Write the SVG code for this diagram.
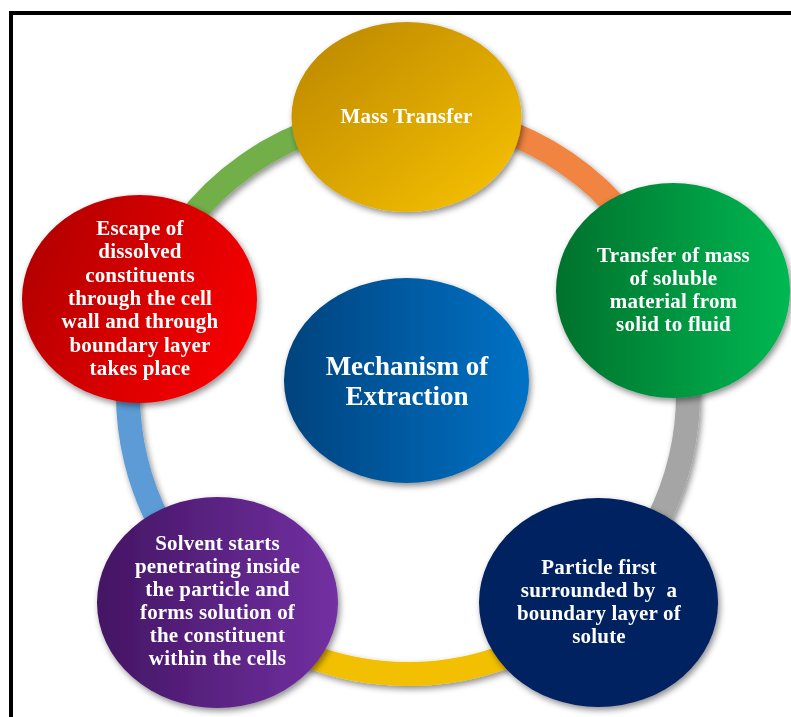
<svg xmlns="http://www.w3.org/2000/svg" width="791" height="717" viewBox="0 0 791 717">
  <defs>
    <linearGradient id="gGold" x1="0" y1="0" x2="1" y2="1">
      <stop offset="0" stop-color="#B98500"/>
      <stop offset="1" stop-color="#FAC400"/>
    </linearGradient>
    <linearGradient id="gGreen" x1="0" y1="0" x2="1" y2="0">
      <stop offset="0" stop-color="#00712C"/>
      <stop offset="1" stop-color="#00B852"/>
    </linearGradient>
    <linearGradient id="gRed" x1="0" y1="0.2" x2="1" y2="0.6">
      <stop offset="0" stop-color="#B00000"/>
      <stop offset="1" stop-color="#F80000"/>
    </linearGradient>
    <linearGradient id="gPurple" x1="0" y1="0" x2="1" y2="0">
      <stop offset="0" stop-color="#431563"/>
      <stop offset="1" stop-color="#7230A2"/>
    </linearGradient>
    <linearGradient id="gBlue" x1="0" y1="0" x2="1" y2="0">
      <stop offset="0" stop-color="#00437D"/>
      <stop offset="1" stop-color="#0072C6"/>
    </linearGradient>
    <filter id="shadow" x="-20%" y="-20%" width="140%" height="140%">
      <feDropShadow dx="2" dy="3" stdDeviation="3" flood-color="#000" flood-opacity="0.45"/>
    </filter>
    <style>
      .ring { fill: none; stroke-width: 24; }
      .label { font-family: "Liberation Serif", "Times New Roman", serif; font-weight: bold; font-size: 21px; letter-spacing: 0.2px; fill: #FFFFFF; text-anchor: middle; }
      .title { font-size: 27px; letter-spacing: 0; }
    </style>
  </defs>

  <rect width="791" height="717" fill="#FFFFFF"/>
  <!-- page frame -->
  <rect x="11" y="13" width="800" height="720" fill="none" stroke="#000000" stroke-width="4"/>

  <!-- ring segments linking the steps -->
  <g id="connectors" filter="url(#shadow)">
    <path class="ring" stroke="#F0843F" d="M408 114 A280 280 0 0 1 668.7 291.8"/>
    <path class="ring" stroke="#A5A5A5" d="M668.7 291.8 A280 280 0 0 1 596.8 600.8"/>
    <path class="ring" stroke="#F2C000" d="M596.8 600.8 A280 280 0 0 1 218.5 600.1"/>
    <path class="ring" stroke="#5B9BD5" d="M218.5 600.1 A280 280 0 0 1 145 297.8"/>
    <path class="ring" stroke="#72AF4A" d="M145 297.8 A280 280 0 0 1 408 114"/>
  </g>

  <g id="mass-transfer" filter="url(#shadow)">
    <ellipse cx="406.5" cy="117" rx="115" ry="95" fill="url(#gGold)"/>
    <text class="label" x="406.5" y="123">Mass Transfer</text>
  </g>

  <g id="transfer-of-mass" filter="url(#shadow)">
    <ellipse cx="673" cy="290.5" rx="117" ry="107.5" fill="url(#gGreen)"/>
    <text class="label" x="673.5" y="262">Transfer of mass</text>
    <text class="label" x="673.5" y="285">of soluble</text>
    <text class="label" x="673.5" y="308">material from</text>
    <text class="label" x="673.5" y="331">solid to fluid</text>
  </g>

  <g id="boundary-layer" filter="url(#shadow)">
    <ellipse cx="598.5" cy="602.5" rx="119.5" ry="104.5" fill="#002060"/>
    <text class="label" x="599" y="574">Particle first</text>
    <text class="label" x="599" y="597" xml:space="preserve">surrounded by  a</text>
    <text class="label" x="599" y="620">boundary layer of</text>
    <text class="label" x="599" y="643">solute</text>
  </g>

  <g id="solvent-penetration" filter="url(#shadow)">
    <ellipse cx="217.5" cy="602.5" rx="120.5" ry="105.5" fill="url(#gPurple)"/>
    <text class="label" x="217.5" y="550">Solvent starts</text>
    <text class="label" x="217.5" y="573">penetrating inside</text>
    <text class="label" x="217.5" y="596">the particle and</text>
    <text class="label" x="217.5" y="619">forms solution of</text>
    <text class="label" x="217.5" y="642">the constituent</text>
    <text class="label" x="217.5" y="665">within the cells</text>
  </g>

  <g id="escape-of-constituents" filter="url(#shadow)">
    <ellipse cx="139.5" cy="299" rx="117.5" ry="104" fill="url(#gRed)"/>
    <text class="label" x="140" y="235">Escape of</text>
    <text class="label" x="140" y="258">dissolved</text>
    <text class="label" x="140" y="282">constituents</text>
    <text class="label" x="140" y="305">through the cell</text>
    <text class="label" x="140" y="328">wall and through</text>
    <text class="label" x="140" y="352">boundary layer</text>
    <text class="label" x="140" y="375">takes place</text>
  </g>

  <g id="mechanism" filter="url(#shadow)">
    <ellipse cx="406.5" cy="380.5" rx="122.5" ry="102.5" fill="url(#gBlue)"/>
    <text class="label title" x="407" y="375">Mechanism of</text>
    <text class="label title" x="407" y="405">Extraction</text>
  </g>
</svg>
